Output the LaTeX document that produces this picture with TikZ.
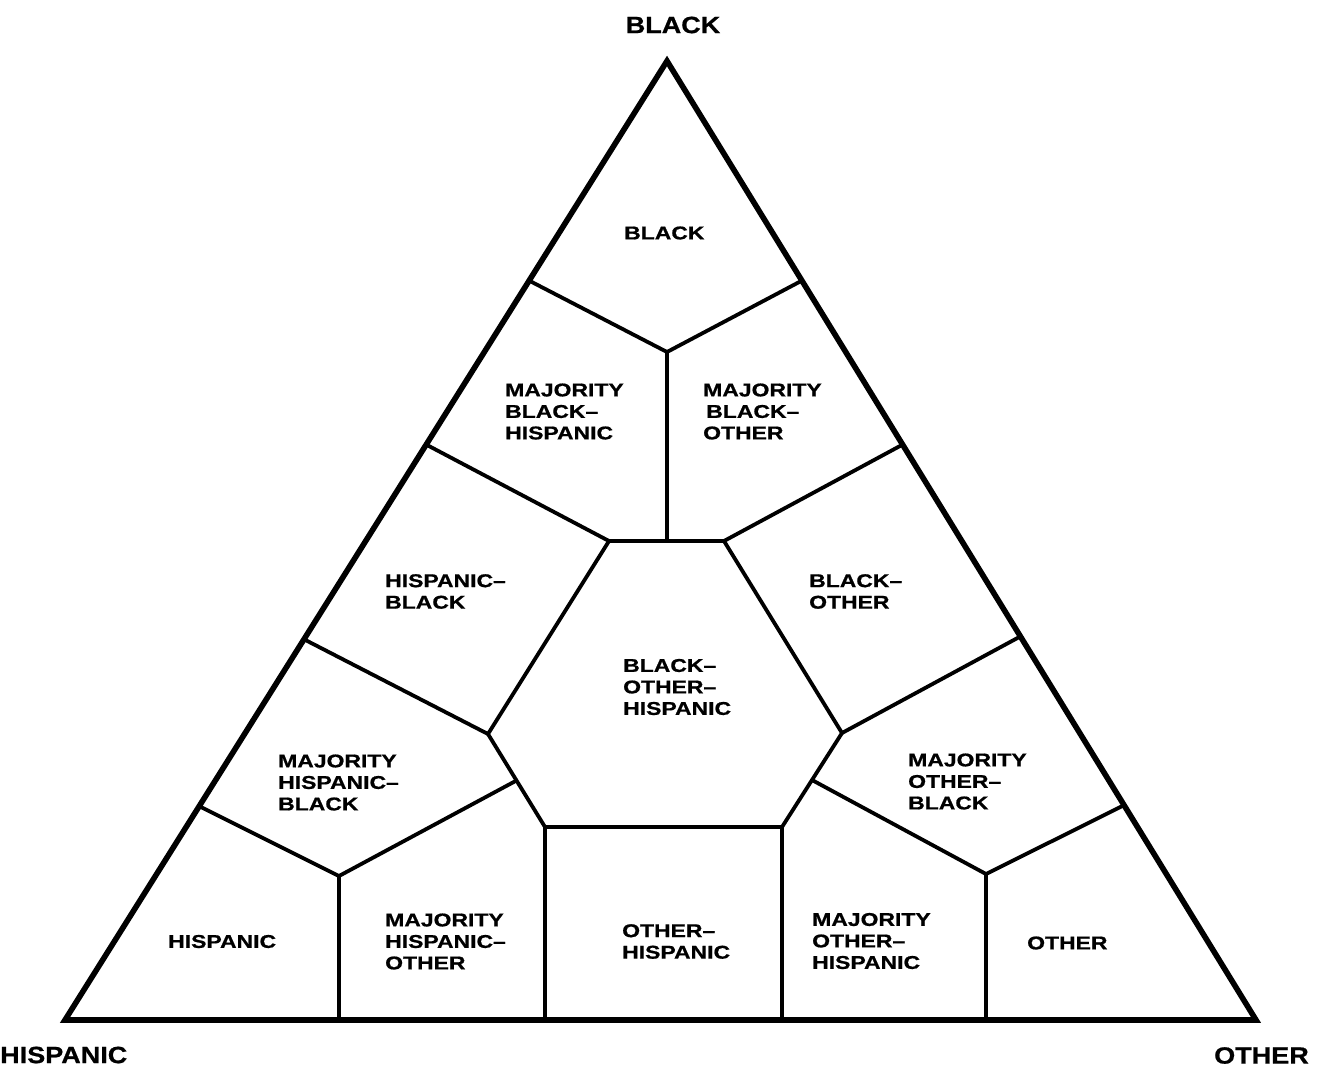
\documentclass[tikz,border=0pt]{standalone}
\usepackage{fontspec}
\setmainfont{Liberation Sans}
\newfontfamily\regionfont[FakeStretch=1.24, BoldFeatures={FakeBold=0.8}]{Liberation Sans}
\newfontfamily\cornerfont[FakeStretch=1.15, BoldFeatures={FakeBold=0.8}]{Liberation Sans}
\usetikzlibrary{calc}
\begin{document}
\begin{tikzpicture}[x=1pt,y=-1pt,
  region/.style={font=\regionfont\bfseries\fontsize{18.5}{21.5}\selectfont, align=left, inner sep=0pt, anchor=west},
  corner/.style={font=\cornerfont\bfseries\fontsize{23.5}{28}\selectfont, inner sep=0pt},
  outline/.style={line width=5.6pt, line join=miter},
  border/.style={line width=3.8pt, line join=miter}]
\useasboundingbox (0,0) rectangle (1322,1072);
% triangle vertices
\coordinate (A) at (667,61);
\coordinate (L) at (65,1020);
\coordinate (R) at (1256,1020);
% points on the sides
\coordinate (p1) at ($(A)!0.229!(L)$);
\coordinate (p3) at ($(A)!0.400!(L)$);
\coordinate (p5) at ($(A)!0.603!(L)$);
\coordinate (p7) at ($(A)!0.777!(L)$);
\coordinate (q1) at ($(A)!0.229!(R)$);
\coordinate (q3) at ($(A)!0.400!(R)$);
\coordinate (q5) at ($(A)!0.600!(R)$);
\coordinate (q7) at ($(A)!0.776!(R)$);
% inner points
\coordinate (c1) at (667,352);
\coordinate (h0) at (667,541);
\coordinate (h1) at (609,541);
\coordinate (h2) at (724,541);
\coordinate (h3) at (842,733);
\coordinate (h4) at (782,827);
\coordinate (h5) at (545,827);
\coordinate (h6) at (488,734);
\coordinate (m1) at ($(h6)!0.5!(h5)$);
\coordinate (m2) at ($(h3)!0.5!(h4)$);
\coordinate (c2) at (339,876);
\coordinate (c3) at (986,874);
\coordinate (b1) at (339,1020);
\coordinate (b2) at (545,1020);
\coordinate (b3) at (782,1020);
\coordinate (b4) at (986,1020);
% outline
\draw[outline] (A) -- (R) -- (L) -- cycle;
% inner borders
\draw[border] (p1) -- (c1) -- (q1);
\draw[border] (c1) -- (h0);
\draw[border] (h1) -- (h2) -- (h3) -- (h4) -- (h5) -- (h6) -- cycle;
\draw[border] (p3) -- (h1);
\draw[border] (q3) -- (h2);
\draw[border] (p5) -- (h6);
\draw[border] (q5) -- (h3);
\draw[border] (p7) -- (c2) -- (m1);
\draw[border] (c2) -- (b1);
\draw[border] (q7) -- (c3) -- (m2);
\draw[border] (c3) -- (b4);
\draw[border] (h5) -- (b2);
\draw[border] (h4) -- (b3);
% corner labels
\node[corner] (tB) at (673,25) {BLACK};
\node[corner, anchor=west] (tH) at (0,1055) {HISPANIC};
\node[corner, anchor=west] (tO) at (1214,1055.5) {OTHER};
% region labels
\node[region] (rB) at (624,233) {BLACK};
\node[region] (rMBH) at (505,411.5) {MAJORITY\\BLACK–\\HISPANIC};
\node[region] (rMBO) at (703,411.5) {MAJORITY\\\,BLACK–\\OTHER};
\node[region] (rHB) at (385,591.5) {HISPANIC–\\BLACK};
\node[region] (rBO) at (809,591.5) {BLACK–\\OTHER};
\node[region] (rBOH) at (623,687) {BLACK–\\OTHER–\\HISPANIC};
\node[region] (rMHB) at (278,782.5) {MAJORITY\\HISPANIC–\\BLACK};
\node[region] (rMOB) at (908,781.5) {MAJORITY\\OTHER–\\BLACK};
\node[region] (rH) at (168,941.5) {HISPANIC};
\node[region] (rMHO) at (385,941.5) {MAJORITY\\HISPANIC–\\OTHER};
\node[region] (rOH) at (622,941.5) {OTHER–\\HISPANIC};
\node[region] (rMOH) at (812,941) {MAJORITY\\OTHER–\\HISPANIC};
\node[region] (rO) at (1027,943) {OTHER};
\end{tikzpicture}
\end{document}
